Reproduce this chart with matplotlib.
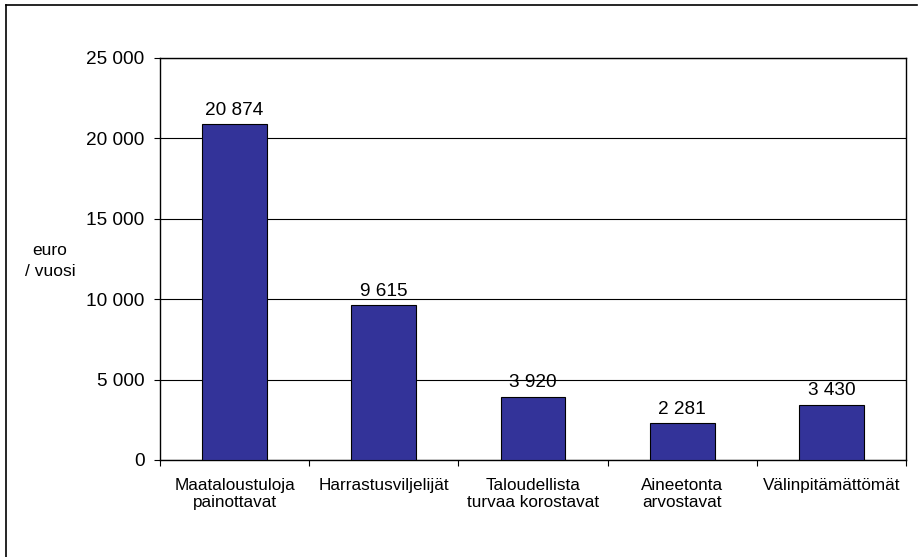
import matplotlib
matplotlib.use("Agg")
import matplotlib.pyplot as plt
from matplotlib.lines import Line2D
import numpy as np

# ── Data ──────────────────────────────────────────────────────────────────────
categories = ["Maataloustuloja\npainottavat", "Harrastusviljelijät",
              "Taloudellista\nturvaa korostavat", "Aineetonta\narvostavat",
              "Välinpitämättömät"]
values = [20874, 9615, 3920, 2281, 3430]
y_ticks = [0, 5000, 10000, 15000, 20000, 25000]


def fmt(v):
    return f"{v:,}".replace(",", " ")


plt.rcParams["font.family"] = ["Liberation Sans", "DejaVu Sans"]
plt.rcParams["font.size"] = 13.5

fig = plt.figure(figsize=(9.21, 5.57), dpi=100)
ax = fig.add_axes([160 / 921, 1 - 460 / 557, (906 - 160) / 921, (460 - 58) / 557])

x = np.arange(len(categories))
ax.bar(x, values, width=0.435, color="#333399", edgecolor="black", linewidth=0.8, zorder=3)

for xi, v in zip(x, values):
    ax.annotate(fmt(v), (xi, v), xytext=(0, 4), textcoords="offset points",
                ha="center", va="bottom", color="black", fontsize=13.7)

ax.set_xlim(-0.5, len(categories) - 0.5)
ax.set_ylim(0, 25000)
ax.set_yticks(y_ticks)
ax.set_yticklabels([fmt(t) for t in y_ticks], fontsize=13.7)
ax.yaxis.grid(True, color="black", linewidth=0.8, zorder=0)

# category boundaries get ticks, labels sit at centres
ax.set_xticks(np.arange(len(categories) + 1) - 0.5)
ax.set_xticklabels([])
ax.set_xticks(x, minor=True)
ax.set_xticklabels(categories, minor=True, fontsize=12.3)
ax.tick_params(axis="x", which="major", direction="out", length=4, width=0.8)
ax.tick_params(axis="x", which="minor", length=0, pad=13)
ax.tick_params(axis="y", direction="out", length=4, width=0.8, pad=7)

for s in ax.spines.values():
    s.set_linewidth(1.0)
    s.set_color("black")

fig.text(50 / 921, 1 - 261 / 557, "euro\n/ vuosi", ha="center", va="center",
         linespacing=1.55, fontsize=12.5)

# outer frame (only left and top edges visible)
fig.add_artist(Line2D([6 / 921, 6 / 921], [0, 1 - 5 / 557], transform=fig.transFigure,
                      color="black", linewidth=1.2))
fig.add_artist(Line2D([6 / 921, 917 / 921], [1 - 5 / 557, 1 - 5 / 557],
                      transform=fig.transFigure, color="black", linewidth=1.2))

plt.savefig("out.png", dpi=100)
plt.close()
